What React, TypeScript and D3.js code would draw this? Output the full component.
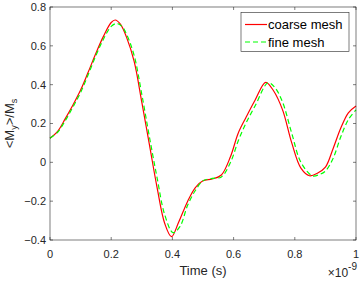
import React from "react";
import * as d3 from "d3";

/* time axis in ns (axis shows x10^-9 s) */
const timeCoarse = [0, 0.025, 0.05, 0.075, 0.1, 0.125, 0.15, 0.175, 0.2, 0.213, 0.23, 0.25, 0.275, 0.3, 0.325, 0.35, 0.375, 0.397, 0.42, 0.45, 0.475, 0.5, 0.53, 0.56, 0.59, 0.615, 0.64, 0.67, 0.705, 0.73, 0.76, 0.79, 0.82, 0.848, 0.875, 0.9, 0.925, 0.95, 0.975, 1.0];
const coarseMesh = [0.124, 0.16, 0.225, 0.295, 0.372, 0.465, 0.562, 0.65, 0.72, 0.733, 0.712, 0.645, 0.52, 0.31, 0.09, -0.13, -0.315, -0.383, -0.31, -0.2, -0.13, -0.095, -0.086, -0.065, 0.03, 0.15, 0.23, 0.32, 0.412, 0.37, 0.27, 0.1, -0.03, -0.069, -0.055, -0.025, 0.07, 0.175, 0.255, 0.29];

const timeFine = [0, 0.025, 0.05, 0.075, 0.1, 0.125, 0.15, 0.175, 0.2, 0.218, 0.235, 0.25, 0.275, 0.3, 0.325, 0.35, 0.375, 0.402, 0.425, 0.45, 0.475, 0.5, 0.53, 0.56, 0.59, 0.615, 0.64, 0.67, 0.713, 0.735, 0.76, 0.79, 0.82, 0.858, 0.88, 0.9, 0.925, 0.95, 0.975, 1.0];
const fineMesh = [0.124, 0.155, 0.215, 0.285, 0.36, 0.452, 0.55, 0.635, 0.7, 0.715, 0.7, 0.66, 0.55, 0.35, 0.13, -0.08, -0.27, -0.362, -0.33, -0.22, -0.145, -0.095, -0.083, -0.075, 0.0, 0.11, 0.2, 0.29, 0.41, 0.385, 0.31, 0.15, 0.0, -0.07, -0.063, -0.045, 0.02, 0.13, 0.22, 0.27];

const xTicks = [0, 0.2, 0.4, 0.6, 0.8, 1];
const yTicks = [-0.4, -0.2, 0, 0.2, 0.4, 0.6, 0.8];
const legendLabels = ["coarse mesh", "fine mesh"];

const W = 360;
const H = 281;
const M = { top: 7, right: 4, bottom: 41, left: 50 };
const AXIS = "#262626";
const FONT = "'Liberation Sans', Arial, sans-serif";

export default function App() {
  const x = d3.scaleLinear().domain([0, 1]).range([M.left, W - M.right]);
  const y = d3.scaleLinear().domain([-0.4, 0.8]).range([H - M.bottom, M.top]);

  const line = d3
    .line<[number, number]>()
    .x((d) => x(d[0]))
    .y((d) => y(d[1]))
    .curve(d3.curveCatmullRom.alpha(0.5));

  const coarse = timeCoarse.map((t, i) => [t, coarseMesh[i]] as [number, number]);
  const fine = timeFine.map((t, i) => [t, fineMesh[i]] as [number, number]);

  const x0 = M.left, x1 = W - M.right, y0 = M.top, y1 = H - M.bottom;
  const tl = 3; // inward tick length

  const lg = { x: 241, y: 12.5, w: 108, h: 39 };

  return (
    <svg
      width={W}
      height={H}
      style={{ position: "absolute", left: 0, top: 0, background: "#fff" }}
      fontFamily={FONT}
    >
      {/* ---- curves ---- */}
      <path d={line(coarse) || ""} fill="none" stroke="#ff0000" strokeWidth={1.2} />
      <path d={line(fine) || ""} fill="none" stroke="#00ff00" strokeWidth={1.2} strokeDasharray="5,3" />

      {/* ---- box ---- */}
      <rect x={x0} y={y0} width={x1 - x0} height={y1 - y0} fill="none" stroke={AXIS} strokeWidth={0.6} />

      {/* ---- x ticks ---- */}
      {xTicks.map((t) => (
        <g key={"x" + t}>
          <line x1={x(t)} x2={x(t)} y1={y1} y2={y1 - tl} stroke={AXIS} strokeWidth={0.6} />
          <line x1={x(t)} x2={x(t)} y1={y0} y2={y0 + tl} stroke={AXIS} strokeWidth={0.6} />
          <text x={x(t)} y={258} textAnchor="middle" fontSize={11} fill={AXIS}>
            {d3.format("~g")(t)}
          </text>
        </g>
      ))}

      {/* ---- y ticks ---- */}
      {yTicks.map((v) => (
        <g key={"y" + v}>
          <line x1={x0} x2={x0 + tl} y1={y(v)} y2={y(v)} stroke={AXIS} strokeWidth={0.6} />
          <line x1={x1} x2={x1 - tl} y1={y(v)} y2={y(v)} stroke={AXIS} strokeWidth={0.6} />
          <text x={x0 - 4} y={y(v)} dy="0.35em" textAnchor="end" fontSize={11} fill={AXIS}>
            {d3.format("~g")(v)}
          </text>
        </g>
      ))}

      {/* ---- axis labels ---- */}
      <text x={(x0 + x1) / 2} y={275} textAnchor="middle" fontSize={13} fill={AXIS}>
        Time (s)
      </text>
      <text x={x1 + 1} y={277} textAnchor="end" fontSize={12} fill={AXIS}>
        ×10<tspan dy={-7} fontSize={10}>-9</tspan>
      </text>
      <text
        transform={`translate(14,${(y0 + y1) / 2}) rotate(-90)`}
        textAnchor="middle"
        fontSize={13}
        fill={AXIS}
      >
        {"<M"}
        <tspan dy={3} fontSize={9}>y</tspan>
        <tspan dy={-3}>{">/M"}</tspan>
        <tspan dy={3} fontSize={9}>s</tspan>
      </text>

      {/* ---- legend ---- */}
      <rect x={lg.x} y={lg.y} width={lg.w} height={lg.h} fill="#fff" stroke={AXIS} strokeWidth={0.6} />
      {legendLabels.map((lab, i) => {
        const cy = lg.y + 12 + i * 17.5;
        return (
          <g key={lab}>
            <line
              x1={lg.x + 4}
              x2={lg.x + 26}
              y1={cy}
              y2={cy}
              stroke={i === 0 ? "#ff0000" : "#00ff00"}
              strokeWidth={1.2}
              strokeDasharray={i === 0 ? undefined : "5,3"}
            />
            <text x={lg.x + 27} y={cy} dy="0.35em" fontSize={13} fill="#000">
              {lab}
            </text>
          </g>
        );
      })}
    </svg>
  );
}
